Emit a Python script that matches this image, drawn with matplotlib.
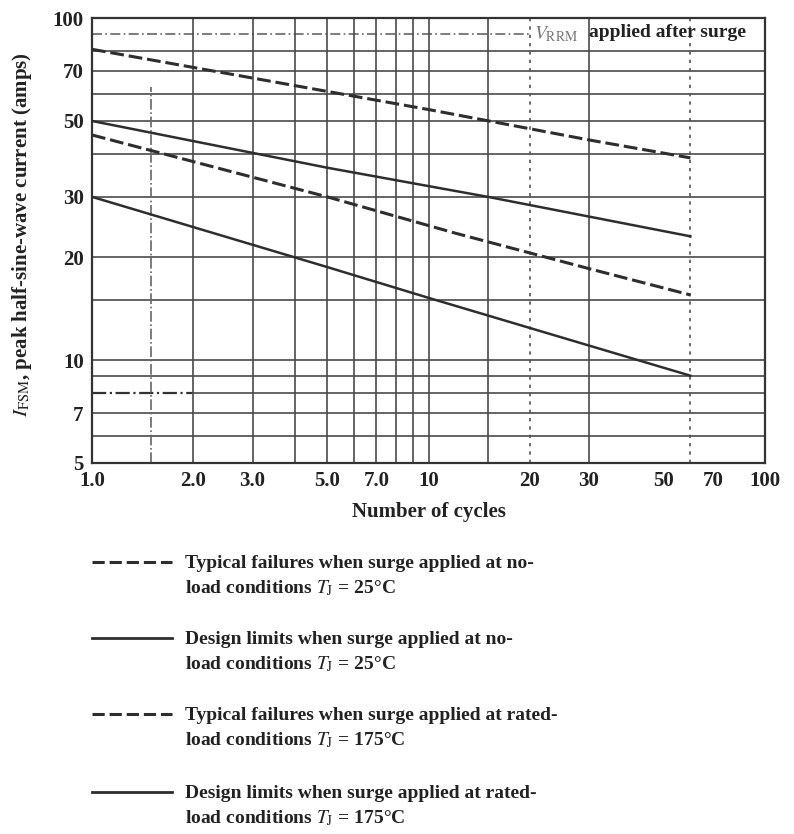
import matplotlib
matplotlib.use("Agg")
import matplotlib.pyplot as plt
from matplotlib.lines import Line2D

# ---- data ----
cycles_fail_noload = [1, 10, 30, 60]
amps_fail_noload = [81, 54, 44, 39]

cycles_limit_noload = [1, 5, 15, 60]
amps_limit_noload = [50, 36.5, 30, 23]

cycles_fail_rated = [1, 5, 12, 30, 60]
amps_fail_rated = [45.5, 30, 23.5, 18.5, 15.5]

cycles_limit_rated = [1, 5, 10, 60]
amps_limit_rated = [30, 18.7, 15.2, 9.0]

x_ticks = [1, 2, 3, 5, 7, 10, 20, 30, 50, 70, 100]
x_ticklabels = ["1.0", "2.0", "3.0", "5.0", "7.0", "10", "20", "30", "50", "70", "100"]
y_ticks = [5, 7, 10, 20, 30, 50, 70, 100]
y_ticklabels = ["5", "7", "10", "20", "30", "50", "70", "100"]

# chart-paper grid
h_grid = [6, 7, 9, 10, 15, 20, 30, 40, 50, 60, 70, 80]
v_grid = [2, 3, 4, 5, 6, 7, 8, 9, 10, 15, 30]
v_grid_dotted = [20, 60]

legend_labels = [
    "Typical failures when surge applied at no-\nload conditions $T_\\mathrm{J}$ = 25°C",
    "Design limits when surge applied at no-\nload conditions $T_\\mathrm{J}$ = 25°C",
    "Typical failures when surge applied at rated-\nload conditions $T_\\mathrm{J}$ = 175°C",
    "Design limits when surge applied at rated-\nload conditions $T_\\mathrm{J}$ = 175°C",
]
legend_styles = ["--", "-", "--", "-"]

plt.rcParams["font.family"] = ["Liberation Serif", "DejaVu Serif"]
plt.rcParams["mathtext.fontset"] = "stix"

W, H = 794, 834
fig = plt.figure(figsize=(W / 100, H / 100), dpi=100)
ax = fig.add_axes([92 / W, 1 - 463 / H, (765 - 92) / W, (463 - 18) / H])
ax.set_xscale("log")
ax.set_yscale("log")
ax.set_xlim(1, 100)
ax.set_ylim(5, 100)

grid_col = "#4a4a4a"
for v in h_grid:
    ax.axhline(v, color=grid_col, lw=1.2, zorder=1)
# the 8 A line is dash-dot up to 2 cycles
ax.plot([1, 2], [8, 8], color="#333333", lw=1.6, ls="-.", zorder=1)
ax.plot([2, 100], [8, 8], color=grid_col, lw=1.2, zorder=1)
# the 90 A line leads into the VRRM note
ax.plot([1, 20], [90, 90], color="#666666", lw=1.2, ls=(0, (6, 2, 1, 2)), zorder=1)
for v in v_grid:
    ax.axvline(v, color=grid_col, lw=1.2, zorder=1)
for v in v_grid_dotted:
    ax.axvline(v, color="#555555", lw=1.2, ls=(0, (2, 3)), zorder=1)
ax.plot([1.5, 1.5], [5, 63], color="#666666", lw=1.2, ls="-.", zorder=1)

line_col = "#2e2e2e"
ax.plot(cycles_fail_noload, amps_fail_noload, color=line_col, lw=2.2, ls=(0, (4.5, 1.6)), zorder=3)
ax.plot(cycles_limit_noload, amps_limit_noload, color=line_col, lw=1.8, zorder=3)
ax.plot(cycles_fail_rated, amps_fail_rated, color=line_col, lw=2.2, ls=(0, (4.5, 1.6)), zorder=3)
ax.plot(cycles_limit_rated, amps_limit_rated, color=line_col, lw=1.8, zorder=3)

ax.text(20.6, 90, "$V_\\mathrm{RRM}$", color="#777777", fontsize=14, va="center", ha="left")
ax.text(30, 90.8, "applied after surge", color="#222222", fontsize=14,
        fontweight="bold", va="center", ha="left")

ax.set_xticks(x_ticks)
ax.set_xticklabels(x_ticklabels)
ax.set_yticks(y_ticks)
ax.set_yticklabels(y_ticklabels)
ax.minorticks_off()
ax.tick_params(length=0, labelsize=15, pad=6, colors="#222222")
for lbl in ax.get_xticklabels() + ax.get_yticklabels():
    lbl.set_fontweight("bold")
for s in ax.spines.values():
    s.set_color("#333333")
    s.set_linewidth(1.6)

ax.set_xlabel("Number of cycles", fontsize=15, fontweight="bold", labelpad=8, color="#222222")
fig.text(22 / W, 1 - 235 / H, "$I_\\mathrm{FSM}$, peak half-sine-wave current (amps)",
         rotation=90, fontsize=15, fontweight="bold", va="center", ha="center", color="#222222")

# legend below the chart
leg_y = [562, 638, 714, 792]
for y, lab, ls in zip(leg_y, legend_labels, legend_styles):
    fy = 1 - y / H
    dash = (0, (4, 1.6)) if ls == "--" else "-"
    fig.add_artist(Line2D([92 / W, 172 / W], [fy, fy], color=line_col,
                          lw=2.2 if ls == "--" else 2.0, ls=dash))
    fig.text(185 / W, fy + 7 / H, lab, fontsize=14, fontweight="bold", va="top",
             ha="left", linespacing=1.45, color="#222222")

fig.savefig("out.png", dpi=100)
